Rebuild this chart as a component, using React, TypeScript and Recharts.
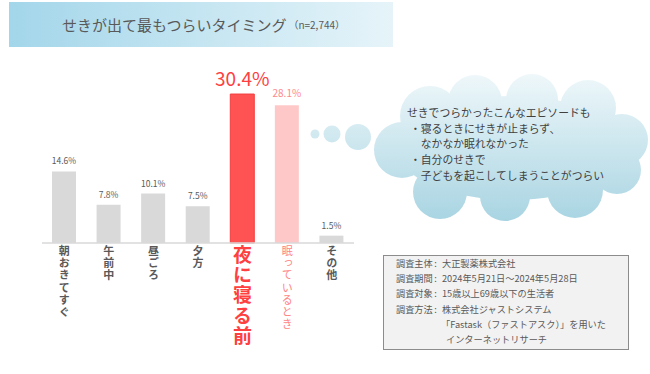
import { Bar, BarChart, Cell, LabelList, XAxis, YAxis } from "recharts";

const categories = ["朝おきてすぐ", "午前中", "昼ごろ", "夕方", "夜に寝る前", "眠っているとき", "その他"];
const shares = [14.6, 7.8, 10.1, 7.5, 30.4, 28.1, 1.5];
const titleText = "せきが出て最もつらいタイミング";
const sampleSize = "（n=2,744）";
const episodeLines = [
  "せきでつらかったこんなエピソードも",
  "・寝るときにせきが止まらず、",
  "　なかなか眠れなかった",
  "・自分のせきで",
  "　子どもを起こしてしまうことがつらい",
];
const surveyRows = [
  ["調査主体", "大正製薬株式会社"],
  ["調査期間", "2024年5月21日～2024年5月28日"],
  ["調査対象", "15歳以上69歳以下の生活者"],
  ["調査方法", "株式会社ジャストシステム"],
  ["", "「Fastask（ファストアスク）」を用いた"],
  ["", "インターネットリサーチ"],
];

const data = categories.map((name, i) => ({ name, value: shares[i] }));

const TOP = 4; // 夜に寝る前
const SECOND = 5; // 眠っているとき
const font = '"Noto Sans CJK JP", "Noto Sans", sans-serif';

function barFill(i: number) {
  if (i === TOP) return "#ff5252";
  if (i === SECOND) return "#ffc8c8";
  return "#d9d9d9";
}

function VerticalTick(props: any) {
  const { x, y, payload, index } = props;
  let size = 11;
  let fill = "#595959";
  let weight = 700;
  if (index === TOP) {
    size = 19;
    fill = "#ff4040";
  } else if (index === SECOND) {
    fill = "#ff8585";
    weight = 400;
  }
  return (
    <text
      x={x}
      y={y - 6}
      fill={fill}
      fontSize={size}
      fontWeight={weight}
      fontFamily={font}
      letterSpacing={1.3}
      style={{ writingMode: "vertical-rl" }}
    >
      {payload.value}
    </text>
  );
}

function ValueLabel(props: any) {
  const { x, y, width, value, index } = props;
  let size = 8.5;
  let fill = "#595959";
  if (index === TOP) {
    size = 19;
    fill = "#ff4040";
  } else if (index === SECOND) {
    size = 10;
    fill = "#ff8a8a";
  }
  return (
    <text
      x={x + width / 2}
      y={y - (index === TOP ? 8 : index === SECOND ? 8 : 7)}
      textAnchor="middle"
      fill={fill}
      fontSize={size}
      fontFamily={font}
    >
      {value.toFixed(1)}%
    </text>
  );
}

function Cloud() {
  const lobes = [
    [430, 116, 30],
    [475, 102, 27],
    [532, 100, 26],
    [588, 108, 28],
    [622, 140, 26],
    [402, 150, 28],
    [440, 192, 27],
    [505, 196, 25],
    [575, 190, 28],
    [617, 170, 24],
  ];
  return (
    <g>
      <defs>
        <linearGradient id="cloudFill" gradientUnits="userSpaceOnUse" x1="0" y1="75" x2="0" y2="222">
          <stop offset="0" stopColor="#eef7fa" />
          <stop offset="1" stopColor="#a8d4e2" />
        </linearGradient>
      </defs>
      <circle cx={315} cy={134} r={4.5} fill="url(#cloudFill)" />
      <circle cx={332} cy={134} r={8.5} fill="url(#cloudFill)" />
      <circle cx={358} cy={137} r={13} fill="url(#cloudFill)" />
      <ellipse cx={512} cy={148} rx={115} ry={52} fill="url(#cloudFill)" />
      {lobes.map(([cx, cy, r], i) => (
        <circle key={i} cx={cx} cy={cy} r={r} fill="url(#cloudFill)" />
      ))}
      {episodeLines.map((line, i) => (
        <text
          key={i}
          x={i === 0 ? 407 : 410}
          y={117 + i * 15.7}
          fontSize={10.8}
          fill="#404040"
          fontFamily={font}
        >
          {line}
        </text>
      ))}
    </g>
  );
}

function SurveyBox() {
  return (
    <g>
      <rect x={383.5} y={255.5} width={245} height={94} fill="#f2f2f2" stroke="#8c8c8c" strokeWidth={1} />
      {surveyRows.map(([label, value], i) => {
        const y = 267 + i * 15.2;
        return (
          <g key={i} fontSize={9.2} fill="#595959" fontFamily={font}>
            {label && (
              <>
                <text x={396} y={y}>{label}</text>
                <text x={435.5} y={y} textAnchor="middle">:</text>
              </>
            )}
            <text x={label ? 442 : i === 4 ? 441 : 446} y={y}>{value}</text>
          </g>
        );
      })}
    </g>
  );
}

export default function App() {
  return (
    <div style={{ position: "absolute", left: 0, top: 0, width: 650, height: 374, background: "#fff" }}>
      <div
        style={{
          position: "absolute",
          left: 9,
          top: 2,
          width: 384,
          height: 45,
          background: "linear-gradient(to right, #a3d6ea, #e6f4f9)",
          fontFamily: font,
          color: "#595959",
          display: "flex",
          alignItems: "center",
          boxSizing: "border-box",
          paddingLeft: 53,
        }}
      >
        <span style={{ fontSize: 15 }}>{titleText}</span>
        <span style={{ fontSize: 10, marginLeft: 2 }}>{sampleSize}</span>
      </div>
      <div style={{ position: "absolute", left: 0, top: 0 }}>
        <BarChart
          width={650}
          height={374}
          data={data}
          margin={{ top: 71.5, right: 296, bottom: 21, left: 42 }}
        >
          <XAxis
            dataKey="name"
            height={110}
            interval={0}
            tickLine={false}
            axisLine={{ stroke: "#d9d9d9", strokeWidth: 1.5 }}
            tick={<VerticalTick />}
          />
          <YAxis hide domain={[0, 35]} />
          <Bar dataKey="value" barSize={24} isAnimationActive={false}>
            {data.map((_, i) => (
              <Cell key={i} fill={barFill(i)} stroke={i === TOP ? "#f23f3f" : "none"} />
            ))}
            <LabelList dataKey="value" content={<ValueLabel />} />
          </Bar>
        </BarChart>
      </div>
      <svg width={650} height={374} style={{ position: "absolute", left: 0, top: 0, pointerEvents: "none" }}>
        <Cloud />
        <SurveyBox />
      </svg>
    </div>
  );
}
